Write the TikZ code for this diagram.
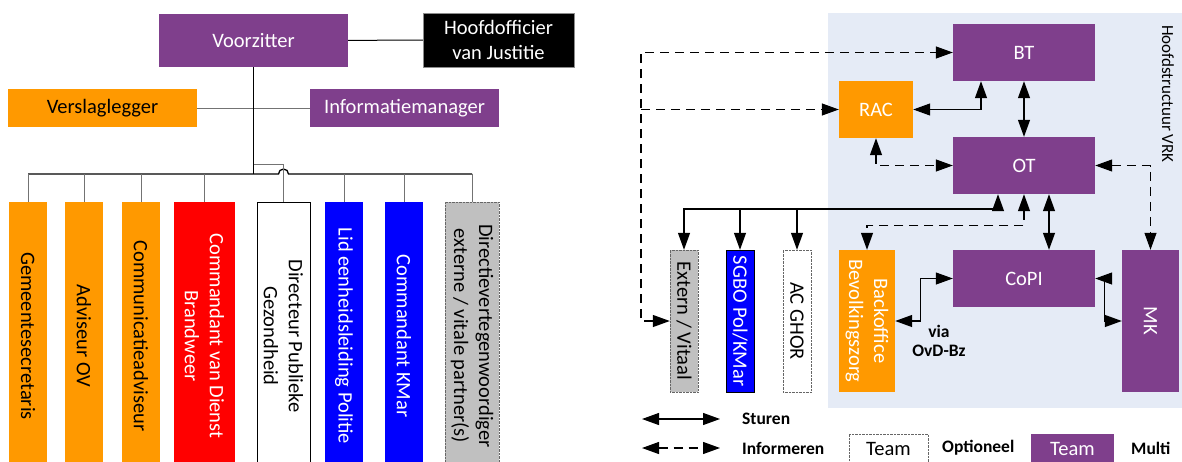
\documentclass[tikz,border=0pt]{standalone}
\usepackage{fontspec}
\setmainfont{Carlito}
\usetikzlibrary{arrows.meta}

\definecolor{vrkpaars}{RGB}{127,63,140}
\definecolor{vrkoranje}{RGB}{255,153,0}
\definecolor{vrkgrijs}{RGB}{192,192,192}
\definecolor{vrkachter}{RGB}{229,235,246}
\newcommand{\kop}{\fontsize{20.5}{25}\selectfont}
\newcommand{\klein}{\fontsize{17.5}{19}\selectfont\bfseries}

\tikzset{
  blok/.style={inner sep=0pt, align=center, font=\kop},
  paars/.style={blok, fill=vrkpaars, text=white},
  oranje/.style={blok, fill=vrkoranje},
  staand/.style={rotate=-90},
  kolom/.style={staand, minimum width=268pt},
  lbl/.style={font=\klein, inner sep=0pt, align=center},
  lijn/.style={draw=black!55, line width=1pt},
  sturen/.style={line width=1.2pt},
  informeren/.style={line width=1.2pt, dash pattern=on 9pt off 6pt},
}

\begin{document}
\begin{tikzpicture}[x=1pt, y=-1pt, >={Triangle[length=17pt,width=12pt]}]
\useasboundingbox (0,0) rectangle (1182,461);
\clip (0,0) rectangle (1182,461);
\fill [vrkachter] (828,13) rectangle (1182,408);

% beleidsteam links
\node (VZ) at (253.5,40.5) [paars, minimum width=189pt, minimum height=53pt] {Voorzitter};
\node (HvJ) at (498.5,40) [blok, fill=black, draw=black!45, text=white, minimum width=151pt, minimum height=54pt] {Hoofdofficier\\van Justitie};
\node (VL) at (102.5,108) [oranje, minimum width=189pt, minimum height=38pt] {Verslaglegger};
\node (IM) at (404.5,108) [paars, minimum width=189pt, minimum height=38pt] {Informatiemanager};

\node (GS) at (28,336) [oranje, kolom, minimum height=38pt] {Gemeentesecretaris};
\node (AOV) at (84,336) [oranje, kolom, minimum height=38pt] {Adviseur OV};
\node (CA) at (141,336) [oranje, kolom, minimum height=38pt] {Communicatieadviseur};
\node (CvD) at (204.5,336) [blok, kolom, fill=red, text=white, minimum height=61pt] {Commandant van Dienst\\Brandweer};
\node (DPG) at (283.5,336) [blok, kolom, fill=white, draw=black, minimum height=53pt] {Directeur Publieke\\Gezondheid};
\node (LEP) at (344,336) [blok, kolom, fill=blue, text=white, minimum height=38pt] {Lid eenheidsleiding Politie};
\node (CKM) at (404,336) [blok, kolom, fill=blue, text=white, minimum height=38pt] {Commandant KMar};
\node (DVP) at (472,336) [blok, kolom, fill=vrkgrijs, draw=black!60, densely dotted, minimum height=54pt] {Directievertegenwoordiger\\externe / vitale partner(s)};

\coordinate (bus) at (0,174);
\coordinate (aftak) at (0,164);

\draw [lijn, draw=black] (VZ) -- (HvJ);
\draw [lijn] (VL) -- (IM);
\draw [line width=1.5pt] (VZ.south) -- (VZ.south |- bus);
\draw [line width=1.3pt] (GS.west |- bus) -- ([xshift=-5pt]DPG.west |- bus) arc [start angle=180, end angle=360, radius=5] -- (DVP.west |- bus);
\draw [lijn] (GS.west |- bus) -- (GS.west);
\draw [lijn] (AOV.west |- bus) -- (AOV.west);
\draw [lijn] (CA.west |- bus) -- (CA.west);
\draw [lijn] (CvD.west |- bus) -- (CvD.west);
\draw [lijn] (LEP.west |- bus) -- (LEP.west);
\draw [lijn] (CKM.west |- bus) -- (CKM.west);
\draw [lijn] (DVP.west |- bus) -- (DVP.west);
\draw [lijn] (VZ.south |- aftak) -| (DPG.west);

% hoofdstructuur VRK rechts
\node (BT) at (1024,52.5) [paars, minimum width=142pt, minimum height=57pt] {BT};
\node (RAC) at (876,109.5) [oranje, text=white, minimum width=74pt, minimum height=57pt] {RAC};
\node (OT) at (1024,165.5) [paars, minimum width=142pt, minimum height=57pt] {OT};
\node (CoPI) at (1024,278.5) [paars, minimum width=142pt, minimum height=57pt] {CoPI};
\node (MK) at (1150.5,321) [paars, staand, minimum width=142pt, minimum height=57pt] {MK};
\node (EV) at (684,321) [blok, staand, fill=vrkgrijs, draw=black!60, densely dotted, minimum width=142pt, minimum height=28pt] {Extern / Vitaal};
\node (SGBO) at (740,321) [blok, staand, fill=blue, text=white, draw=black, minimum width=142pt, minimum height=28pt] {SGBO Pol/KMar};
\node (ACG) at (797,321) [blok, staand, fill=white, draw=black!60, densely dotted, minimum width=142pt, minimum height=28pt] {AC GHOR};
\node (BO) at (867,321) [oranje, staand, text=white, minimum width=142pt, minimum height=56pt] {Backoffice\\Bevolkingszorg};
\node (HS) at (1168,94) [staand, font=\fontsize{17}{20}\selectfont] {Hoofdstructuur VRK};
\node (via) at (939,341) [lbl] {via\\OvD-Bz};

\coordinate (inf) at (641,0);
\coordinate (sbus) at (0,209);

\draw [informeren, <->] (EV.south) -| (inf |- BT.west) -- (BT.west);
\draw [informeren, ->] (inf |- RAC.west) -- (RAC.west);
\draw [sturen, <->] (RAC.east) -| ([xshift=-43pt]BT.south);
\draw [sturen, <->] (BT.south) -- (OT.north);
\draw [informeren, <->] (RAC.south) |- (OT.west);
\draw [informeren, <->] (OT.east) -| (MK.west);
\draw [sturen, <->] (EV.west) |- ([xshift=-26pt]OT.south |- sbus) -- ([xshift=-26pt]OT.south);
\draw [sturen, ->] (SGBO.west |- sbus) -- (SGBO.west);
\draw [sturen, ->] (ACG.west |- sbus) -- (ACG.west);
\draw [informeren, <->] (OT.south) -- ++(0,31) -| (BO.west);
\draw [sturen, <->] ([xshift=25pt]OT.south) -- ([xshift=25pt]CoPI.north);
\draw [sturen, <->] (BO.north) -- ++(25,0) |- (CoPI.west);
\draw [sturen, <->] (CoPI.east) -- ++(9,0) |- (MK.south);

% legenda
\coordinate (s1) at (642,419);
\coordinate (s2) at (720,419);
\coordinate (i1) at (642,448);
\coordinate (i2) at (720,448);
\draw [sturen, <->] (s1) -- (s2);
\draw [informeren, <->] (i1) -- (i2);
\node (ST) at (742,419) [lbl, anchor=west] {Sturen};
\node (IN) at (742,448) [lbl, anchor=west] {Informeren};
\node (TO) at (888.5,449) [blok, fill=white, draw=black!60, densely dotted, minimum width=79pt, minimum height=30pt] {Team};
\node (OP) at (942,448) [lbl, anchor=west] {Optioneel};
\node (TM) at (1072.5,449) [paars, minimum width=83pt, minimum height=30pt] {Team};
\node (MU) at (1131,448) [lbl, anchor=west] {Multi};
\end{tikzpicture}
\end{document}
